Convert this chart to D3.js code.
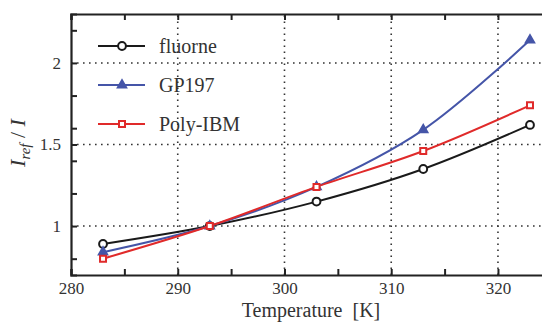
<!DOCTYPE html>
<html>
<head>
<meta charset="utf-8">
<script src="https://cdn.jsdelivr.net/npm/d3@7"></script>
<style>
  body { margin: 0; background: #fff; }
  text { font-family: "Liberation Serif", "DejaVu Serif", serif; fill: #333; }
</style>
</head>
<body>
<div class="chart"></div>
<script>
var temps = [283, 293, 303, 313, 323];
var fluorne = [0.89, 1.0, 1.15, 1.35, 1.62];
var gp197 = [0.84, 1.0, 1.24, 1.59, 2.14];
var polyIbm = [0.80, 1.0, 1.24, 1.46, 1.74];
var xTicks = [280, 290, 300, 310, 320];
var yTicks = [1, 1.5, 2];

var series = [
  { name: "fluorne", values: fluorne, color: "#1a1a1a", marker: "circle" },
  { name: "GP197", values: gp197, color: "#4555a8", marker: "triangle" },
  { name: "Poly-IBM", values: polyIbm, color: "#e02a2a", marker: "square" }
];

var width = 542, height = 325;
var margin = { top: 14, right: -4, bottom: 50, left: 71 };

var svg = d3.select(".chart").append("svg")
  .attr("width", width)
  .attr("height", height);

var x = d3.scaleLinear().domain([280, 324.5]).range([margin.left, width - margin.right]);
var y = d3.scaleLinear().domain([0.7, 2.3]).range([height - margin.bottom, margin.top]);

// grid
svg.append("g").selectAll("line").data(xTicks.slice(1)).join("line")
  .attr("x1", d => x(d)).attr("x2", d => x(d))
  .attr("y1", y(0.7)).attr("y2", y(2.3))
  .attr("stroke", "#333").attr("stroke-width", 1.6)
  .attr("stroke-dasharray", "1.6,4.4");
svg.append("g").selectAll("line").data(yTicks).join("line")
  .attr("x1", x(280)).attr("x2", width)
  .attr("y1", d => y(d)).attr("y2", d => y(d))
  .attr("stroke", "#333").attr("stroke-width", 1.6)
  .attr("stroke-dasharray", "1.6,4.4");

// axes
var xAxisBottom = svg.append("g")
  .attr("transform", "translate(0," + y(0.7) + ")")
  .call(d3.axisBottom(x).tickValues(d3.range(280, 326, 5)).tickSize(-6).tickPadding(7)
    .tickFormat(d => d % 10 === 0 ? d : ""));
var xAxisTop = svg.append("g")
  .attr("transform", "translate(0," + y(2.3) + ")")
  .call(d3.axisTop(x).tickValues(d3.range(280, 326, 5)).tickSize(-6).tickFormat(""));
var yAxis = svg.append("g")
  .attr("transform", "translate(" + x(280) + ",0)")
  .call(d3.axisLeft(y).tickValues([0.8, 1, 1.2, 1.4, 1.5, 1.6, 1.8, 2, 2.2]).tickSize(-6).tickPadding(10)
    .tickFormat(d => yTicks.indexOf(d) >= 0 ? d : ""));

[xAxisBottom, xAxisTop, yAxis].forEach(function (g) {
  g.select(".domain").attr("stroke", "#222").attr("stroke-width", 2.2);
  g.selectAll(".tick line").attr("stroke", "#222").attr("stroke-width", 2);
  g.selectAll(".tick text").attr("font-size", 17).attr("fill", "#444")
    .style("font-family", "'Liberation Serif', serif");
});

// lines
var line = d3.line()
  .x((d, i) => x(temps[i]))
  .y(d => y(d))
  .curve(d3.curveCatmullRom.alpha(0.5));

var sym = {
  circle: d3.symbol().type(d3.symbolCircle).size(48),
  triangle: d3.symbol().type(d3.symbolTriangle).size(30),
  square: d3.symbol().type(d3.symbolSquare).size(36)
};

series.forEach(function (s) {
  svg.append("path")
    .datum(s.values)
    .attr("d", line)
    .attr("fill", "none")
    .attr("stroke", s.color)
    .attr("stroke-width", 2);
  svg.append("g").selectAll("path").data(s.values).join("path")
    .attr("transform", (d, i) => "translate(" + x(temps[i]) + "," + y(d) + ")")
    .attr("d", sym[s.marker])
    .attr("fill", s.marker === "triangle" ? s.color : "#fff")
    .attr("stroke", s.color)
    .attr("stroke-width", 2);
});

// legend
var legend = svg.append("g").attr("transform", "translate(98,46)");
series.forEach(function (s, i) {
  var g = legend.append("g").attr("transform", "translate(0," + (i * 39) + ")");
  g.append("line").attr("x1", 0).attr("x2", 47)
    .attr("stroke", s.color).attr("stroke-width", 2);
  g.append("path").attr("transform", "translate(24,0)")
    .attr("d", sym[s.marker])
    .attr("fill", s.marker === "triangle" ? s.color : "#fff")
    .attr("stroke", s.color).attr("stroke-width", 2);
  g.append("text").attr("x", 61).attr("dy", "0.35em")
    .attr("font-size", 20).text(s.name);
});

// axis titles
svg.append("text")
  .attr("x", 311).attr("y", 317)
  .attr("text-anchor", "middle")
  .attr("font-size", 20)
  .text("Temperature\u00a0\u00a0[K]");

var yl = svg.append("text")
  .attr("transform", "translate(25,143) rotate(-90)")
  .attr("text-anchor", "middle")
  .attr("font-size", 22);
yl.append("tspan").attr("font-style", "italic").text("I");
yl.append("tspan").attr("font-style", "italic").attr("font-size", 15).attr("dy", 5).text("ref");
yl.append("tspan").attr("dy", -5).text("\u00a0/\u00a0");
yl.append("tspan").attr("font-style", "italic").text("I");
</script>
</body>
</html>
